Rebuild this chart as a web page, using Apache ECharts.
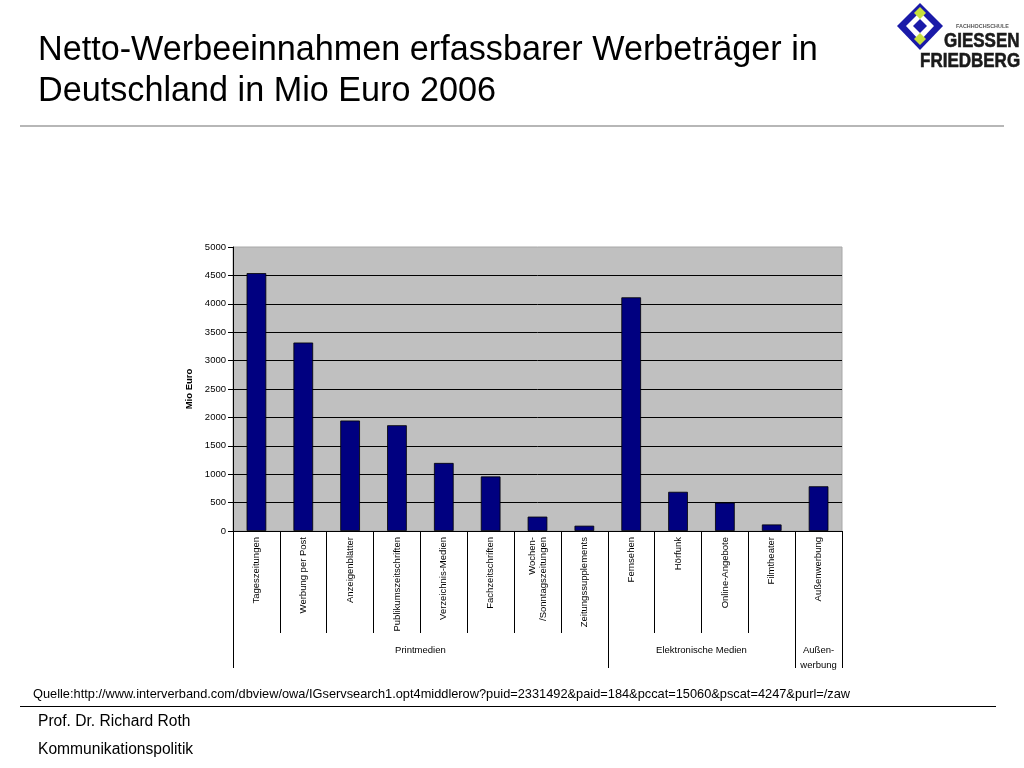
<!DOCTYPE html>
<html>
<head>
<meta charset="utf-8">
<script src="https://cdn.jsdelivr.net/npm/echarts@6/dist/echarts.min.js"></script>
<style>
html,body{margin:0;padding:0;background:#fff;}
#chart{width:1024px;height:768px;}
</style>
</head>
<body>
<div id="chart"></div>
<script>
const categories = ['Tageszeitungen','Werbung per Post','Anzeigenblätter','Publikumszeitschriften','Verzeichnis-Medien','Fachzeitschriften','Wochen-\n/Sonntagszeitungen','Zeitungssupplements','Fernsehen','Hörfunk','Online-Angebote','Filmtheater','Außenwerbung'];
const values = [4540, 3318, 1945, 1862, 1198, 960, 253, 93, 4114, 690, 500, 115, 787];
const groupNames = ['Printmedien','Elektronische Medien','Außen-\nwerbung'];
const groupSizes = [8, 4, 1];
const yTicks = [0, 500, 1000, 1500, 2000, 2500, 3000, 3500, 4000, 4500, 5000];

// group boundaries and centers (in category units)
const groupBounds = [0];
groupSizes.forEach(s => groupBounds.push(groupBounds[groupBounds.length-1] + s));
const groupCenters = groupSizes.map((s,i) => groupBounds[i] + s/2);

const FONT = '"Liberation Sans", Arial, sans-serif';
const chart = echarts.init(document.getElementById('chart'));
chart.setOption({
  animation: false,
  backgroundColor: '#ffffff',
  textStyle: {fontFamily: FONT},
  title: {
    text: 'Netto-Werbeeinnahmen erfassbarer Werbeträger in\nDeutschland in Mio Euro 2006',
    left: 38, top: 30, padding: 0,
    textStyle: {fontFamily: FONT, fontSize: 34.2, fontWeight: 'normal', color: '#000', lineHeight: 41}
  },
  grid: {
    left: 233, right: 182, top: 247, bottom: 237,
    show: true, backgroundColor: '#c0c0c0', borderColor: '#a8a8a8', borderWidth: 1
  },
  xAxis: [{
    type: 'category',
    data: categories,
    position: 'bottom',
    axisLine: {show: true, lineStyle: {color: '#000', width: 1}},
    axisTick: {show: true, length: 102, interval: 0, lineStyle: {color: '#000', width: 1}},
    axisLabel: {
      rotate: 90, interval: 0, margin: 6, fontSize: 9.5, color: '#000', fontFamily: FONT, lineHeight: 11
    },
    splitLine: {show: false}
  }, {
    type: 'value',
    min: 0, max: categories.length,
    position: 'bottom',
    axisLine: {show: false},
    axisTick: {show: true, customValues: groupBounds, length: 137, lineStyle: {color: '#000', width: 1}},
    axisLabel: {
      show: true, customValues: groupCenters, margin: 112, fontSize: 9.5, color: '#000', fontFamily: FONT, lineHeight: 15,
      formatter: function (v) {
        const i = groupCenters.findIndex(c => Math.abs(c - v) < 1e-6);
        return i >= 0 ? groupNames[i] : '';
      }
    },
    splitLine: {show: false}
  }],
  yAxis: {
    type: 'value',
    min: yTicks[0], max: yTicks[yTicks.length-1], interval: 500,
    name: 'Mio Euro', nameLocation: 'middle', nameGap: 32,
    nameTextStyle: {fontFamily: FONT, fontSize: 9.5, fontWeight: 'bold', color: '#000'},
    axisLine: {show: true, lineStyle: {color: '#000', width: 1}},
    axisTick: {show: true, length: 5, lineStyle: {color: '#000'}},
    axisLabel: {margin: 7, fontSize: 9.5, color: '#000', fontFamily: FONT, formatter: v => String(v)},
    splitLine: {show: true, showMaxLine: false, lineStyle: {color: '#000', width: 1}}
  },
  series: [{
    type: 'bar',
    xAxisIndex: 0,
    data: values,
    barWidth: '42%',
    itemStyle: {color: '#000080', borderColor: '#000', borderWidth: 0.8}
  }],
  graphic: [
    {type: 'line', shape: {x1: 20, y1: 126, x2: 1004, y2: 126}, style: {stroke: '#707070', lineWidth: 1.2}},
    {type: 'line', shape: {x1: 20, y1: 706.5, x2: 996, y2: 706.5}, style: {stroke: '#000', lineWidth: 1}},
    {type: 'text', left: 33, top: 688, style: {text: 'Quelle:http://www.interverband.com/dbview/owa/IGservsearch1.opt4middlerow?puid=2331492&paid=184&pccat=15060&pscat=4247&purl=/zaw', font: '12.8px ' + FONT, fill: '#000'}},
    {type: 'text', left: 38, top: 714, style: {text: 'Prof. Dr. Richard Roth', font: '15.6px ' + FONT, fill: '#000'}},
    {type: 'text', left: 38, top: 742, style: {text: 'Kommunikationspolitik', font: '15.6px ' + FONT, fill: '#000'}},
    // logo
    {type: 'polygon', shape: {points: [[897,26],[920,3],[943,26],[920,50]]}, style: {fill: '#1a1aa8'}},
    {type: 'polygon', shape: {points: [[906,26],[920,12],[934,26],[920,41]]}, style: {fill: '#ffffff'}},
    {type: 'polygon', shape: {points: [[914,13],[920,7],[926,13],[920,19]]}, style: {fill: '#c8e03c'}},
    {type: 'polygon', shape: {points: [[914,39],[920,33],[926,39],[920,45]]}, style: {fill: '#c8e03c'}},
    {type: 'polygon', shape: {points: [[913,26],[920,19],[927,26],[920,33]]}, style: {fill: '#1a1aa8'}},
    {type: 'text', x: 956, y: 23, scaleX: 0.9, style: {text: 'FACHHOCHSCHULE', font: 'bold 6px ' + FONT, fill: '#555'}},
    {type: 'text', x: 944, y: 31, scaleX: 0.85, style: {text: 'GIESSEN', font: 'bold 20px ' + FONT, fill: '#1a1a1a', stroke: '#1a1a1a', lineWidth: 0.6}},
    {type: 'text', x: 920, y: 51, scaleX: 0.85, style: {text: 'FRIEDBERG', font: 'bold 20px ' + FONT, fill: '#1a1a1a', stroke: '#1a1a1a', lineWidth: 0.6}}
  ]
});
</script>
</body>
</html>
